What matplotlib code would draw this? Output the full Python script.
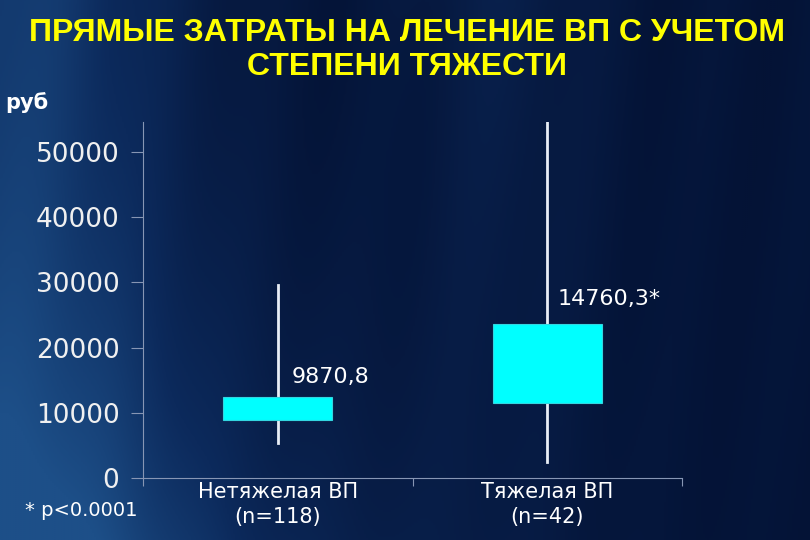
import numpy as np
import matplotlib.pyplot as plt
from matplotlib.colors import LinearSegmentedColormap

title = 'ПРЯМЫЕ ЗАТРАТЫ НА ЛЕЧЕНИЕ ВП С УЧЕТОМ\nСТЕПЕНИ ТЯЖЕСТИ'
categories = ['Нетяжелая ВП\n(n=118)', 'Тяжелая ВП\n(n=42)']
box_low = [8900, 11500]
box_high = [12400, 23600]
whisker_low = [5400, 2450]
whisker_high = [29600, 54600]
value_labels = ['9870,8', '14760,3*']
yticks = [0, 10000, 20000, 30000, 40000, 50000]

fig = plt.figure(figsize=(8.1, 5.4), dpi=100)

# background gradient
bg = fig.add_axes([0, 0, 1, 1])
bg.set_axis_off()
xx, yy = np.meshgrid(np.linspace(0, 1, 400), np.linspace(0, 1, 270))
shade = 0.5 * np.exp(-((xx - 0.0) / 0.22) ** 2) + 0.3 * (yy ** 2) * np.exp(-((xx - 0.1) / 0.45) ** 2)
shade += 0.05 * np.sin(xx * 23 + yy * 2) ** 2 * (1 - yy * 0.5)
shade += 0.15 * np.exp(-((xx - 0.62) / 0.12) ** 2) * (0.3 + 0.7 * (1 - yy))
cmap = LinearSegmentedColormap.from_list('bg', ['#041336', '#0c2a5c', '#1d4f88'])
bg.imshow(shade, cmap=cmap, aspect='auto', extent=[0, 1, 0, 1], vmin=0, vmax=0.7)
bg.set_xlim(0, 1)
bg.set_ylim(0, 1)

ax = fig.add_axes([143 / 810, 62 / 540, (682 - 143) / 810, (478 - 122) / 540])
ax.patch.set_alpha(0)
axis_color = '#8796b4'

x = np.arange(len(categories))
width = 0.405
for i in x:
    ax.plot([i, i], [whisker_low[i], whisker_high[i]], color='#e8eef6', lw=2, zorder=2)
    ax.bar(i, box_high[i] - box_low[i], width, bottom=box_low[i],
           color='#00ffff', edgecolor='#33d6e0', lw=0.8, zorder=3)

ax.text(0.05, 15500, value_labels[0], color='white', fontsize=16, va='center', ha='left')
ax.text(1.04, 27500, value_labels[1], color='white', fontsize=16, va='center', ha='left')

ax.set_xlim(-0.5, 1.5)
ax.set_ylim(0, 54600)
ax.set_yticks(yticks)
ax.set_yticklabels([str(t) for t in yticks], color='#f0f0f0', fontsize=19)
ax.set_xticks([-0.5, 0.5, 1.5])
ax.set_xticklabels([])
ax.tick_params(axis='y', length=9, width=0.8, color=axis_color, pad=8)
ax.tick_params(axis='x', length=6, width=0.8, color=axis_color, direction='out')
for side in ['top', 'right']:
    ax.spines[side].set_visible(False)
for side in ['left', 'bottom']:
    ax.spines[side].set_color(axis_color)
    ax.spines[side].set_linewidth(0.8)

for i, c in enumerate(categories):
    ax.text(i, -600, c, color='white', fontsize=15, ha='center', va='top',
            linespacing=1.3)

fig.text(0.503, 1 - 50 / 540, title, color='#ffff00', fontsize=23, fontweight='bold',
         ha='center', va='center', family='Liberation Sans', linespacing=1.15)
fig.text(5 / 810, 1 - 103 / 540, 'руб', color='white', fontsize=15,
         fontweight='bold', ha='left', va='center')
fig.text(81 / 810, 1 - 511 / 540, '* p<0.0001', color='white', fontsize=14,
         ha='center', va='center')

fig.savefig('out.png', dpi=100)
